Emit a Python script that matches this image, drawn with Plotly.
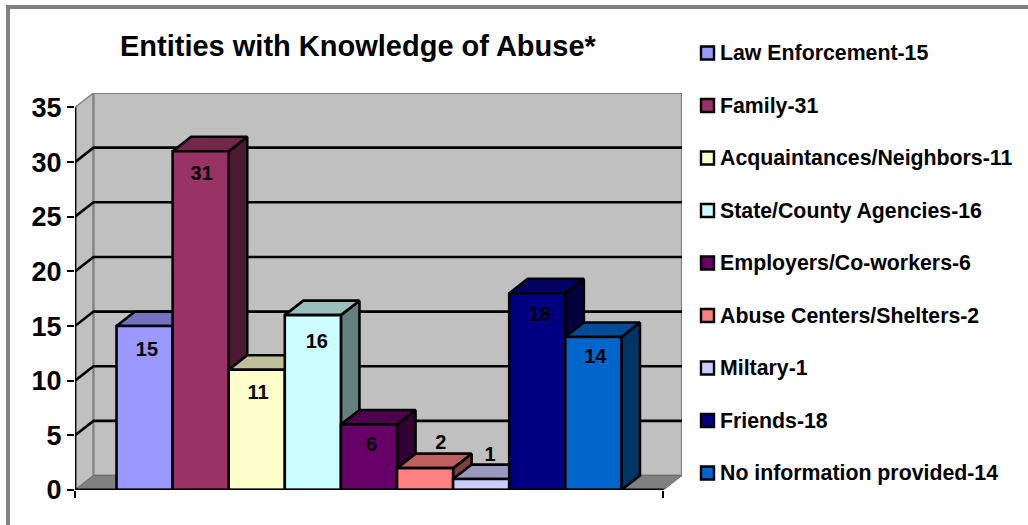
import plotly.graph_objects as go

categories = ["Law Enforcement-15", "Family-31", "Acquaintances/Neighbors-11", "State/County Agencies-16",
              "Employers/Co-workers-6", "Abuse Centers/Shelters-2", "Miltary-1", "Friends-18",
              "No information provided-14"]
values = [15, 31, 11, 16, 6, 2, 1, 18, 14]
front_colors = ["#9999FF", "#993366", "#FFFFCC", "#CCFFFF", "#660066", "#FF8080", "#CCCCFF", "#000080", "#0066CC"]
y_ticks = [0, 5, 10, 15, 20, 25, 30, 35]
title_text = "Entities with Knowledge of Abuse*"

# data-label nudges from each bar's top centre (pixels, as seen in the picture)
label_shift_x = [2.4, 1, 1.4, 4, 2.7, 15.7, 9, 2.4, 2]
label_shift_y = [-25, -24, -24, -28, -22, 24, 23.5, -23, -21]

# 3-D look (in axis units)
DX, DY = 0.33, 1.325
X_L, X_R = -0.74, 9.75
LW = 2.6
PLOT_L, PLOT_R, PLOT_T, PLOT_B = 75, 682, 93, 490
W, H = 1028, 525
FONT = "Liberation Sans"
PX_PER_X = (PLOT_R - PLOT_L) / (X_R + DX - X_L)
PX_PER_Y = (PLOT_B - PLOT_T) / (y_ticks[-1] + DY)


def shade(hexcol, f):
    r, g, b = (int(hexcol[i:i + 2], 16) for i in (1, 3, 5))
    return "#%02X%02X%02X" % (int(r * f), int(g * f), int(b * f))


def poly(xs, ys, fill, line="black", width=LW):
    return go.Scatter(x=list(xs) + [xs[0]], y=list(ys) + [ys[0]], mode="lines", fill="toself", fillcolor=fill,
                      line=dict(color=line, width=width), hoverinfo="skip", showlegend=False, cliponaxis=False)


def seg(xs, ys, color="black", width=LW):
    return go.Scatter(x=xs, y=ys, mode="lines", line=dict(color=color, width=width), hoverinfo="skip",
                      showlegend=False, cliponaxis=False)


fig = go.Figure()
top = y_ticks[-1]
# walls and floor
fig.add_trace(poly([X_L, X_L + DX, X_L + DX, X_L], [0, DY, top + DY, top], "#C0C0C0", "#808080", 1.5))
fig.add_trace(poly([X_L + DX, X_R + DX, X_R + DX, X_L + DX], [DY, DY, top + DY, top + DY], "#C0C0C0", "#808080", 2.2))
fig.add_trace(poly([X_L, X_L + DX, X_R + DX, X_R], [0, DY, DY, 0], "#808080", "#6E6E6E", 1))
# gridlines
for t in y_ticks[1:-1]:
    fig.add_trace(seg([X_L, X_L + DX, X_R + DX], [t, t + DY, t + DY]))
# bars, left to right so that nearer faces overlap
for i, (v, c) in enumerate(zip(values, front_colors)):
    l, r = i, i + 1
    fig.add_trace(poly([r, r + DX, r + DX, r], [0, DY, v + DY, v], shade(c, 0.5)))
    fig.add_trace(poly([l, r, r + DX, l + DX], [v, v, v + DY, v + DY], shade(c, 0.75)))
    fig.add_trace(poly([l, r, r, l], [0, 0, v, v], c))
# axis lines
fig.add_trace(seg([X_L, X_R], [0, 0], width=2.8))
fig.add_trace(seg([X_L, X_L], [0, top], width=2.8))
# data labels
lab_x = [i + 0.5 + sx / PX_PER_X for i, sx in enumerate(label_shift_x)]
lab_y = [v + sy / PX_PER_Y for v, sy in zip(values, label_shift_y)]
fig.add_trace(go.Scatter(x=lab_x, y=lab_y, mode="text", text=[str(v) for v in values],
                         textposition="middle center", textfont=dict(family=FONT, size=20, color="black", weight="bold"),
                         hoverinfo="skip", showlegend=False, cliponaxis=False))

pw, ph = PLOT_R - PLOT_L, PLOT_B - PLOT_T
px = lambda x: (x - PLOT_L) / pw
py = lambda y: (PLOT_B - y) / ph

shapes = [
    dict(type="rect", xref="paper", yref="paper", x0=px(7), x1=px(1040), y0=py(5), y1=py(9),
         fillcolor="#808080", line_width=0, layer="below"),
    dict(type="rect", xref="paper", yref="paper", x0=px(6), x1=px(10), y0=py(5), y1=py(535),
         fillcolor="#808080", line_width=0, layer="below"),
]
annotations = [dict(text="<b>%s</b>" % title_text, xref="paper", yref="paper", x=px(358), y=py(46), xanchor="center",
                    yanchor="middle", showarrow=False, font=dict(family=FONT, size=29, color="black"))]
for k, (name, c) in enumerate(zip(categories, front_colors)):
    yc = 53 + 52.5 * k
    shapes.append(dict(type="rect", xref="paper", yref="paper", x0=px(701), x1=px(714), y0=py(yc - 6.5), y1=py(yc + 6.5),
                       fillcolor=c, line=dict(color="black", width=2.4)))
    annotations.append(dict(text="<b>%s</b>" % name, xref="paper", yref="paper", x=px(718), y=py(yc), xanchor="left",
                            yanchor="middle", showarrow=False, font=dict(family=FONT, size=21.3, color="black")))

fig.update_layout(
    width=W, height=H, autosize=False, showlegend=False,
    margin=dict(l=PLOT_L, r=W - PLOT_R, t=PLOT_T, b=H - PLOT_B, pad=0),
    paper_bgcolor="white", plot_bgcolor="white",
    xaxis=dict(range=[X_L, X_R + DX], showgrid=False, zeroline=False, showline=False, tickvals=[X_L, X_R],
               showticklabels=False, ticks="outside", ticklen=7, tickwidth=2.4, tickcolor="black"),
    yaxis=dict(range=[0, top + DY], showgrid=False, zeroline=False, showline=False, tickvals=y_ticks,
               ticks="outside", ticklen=7, tickwidth=2.4, tickcolor="black",
               tickfont=dict(family=FONT, size=27, color="black", weight="bold")),
    shapes=shapes, annotations=annotations,
)
fig.write_html("out.html", config=dict(displayModeBar=False),
               post_script="document.body.style.margin='0';document.body.style.overflow='hidden';")
